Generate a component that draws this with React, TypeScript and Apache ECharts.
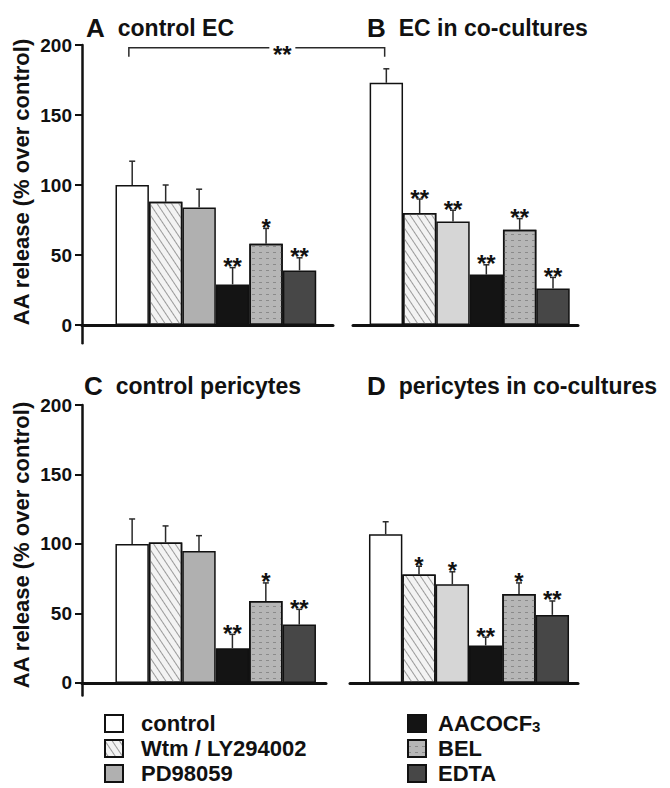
import React, { useEffect, useRef } from 'react';
import * as echarts from 'echarts';

const categories = ['control', 'Wtm / LY294002', 'PD98059', 'AACOCF3', 'BEL', 'EDTA'];

const valuesA = [100, 88, 84, 29, 58, 39];
const semA = [17, 12, 13, 12, 11, 9];
const sigA = ['', '', '', '**', '*', '**'];

const valuesB = [173, 80, 74, 36, 68, 26];
const semB = [10, 10, 8, 7, 8, 8];
const sigB = ['', '**', '**', '**', '**', '**'];

const valuesC = [100, 101, 95, 25, 59, 42];
const semC = [18, 12, 11, 10, 13, 11];
const sigC = ['', '', '', '**', '*', '**'];

const valuesD = [107, 78, 71, 27, 64, 49];
const semD = [9, 6, 9, 6, 8, 10];
const sigD = ['', '*', '*', '**', '*', '**'];

const yTicks = [0, 50, 100, 150, 200];
const bracketValue = 198;
const bracketSig = '**';

const FONT = '"Liberation Sans", Arial, Helvetica, sans-serif';
const STAR_FONT = 'bold 24px "Liberation Sans", Arial, sans-serif';

const panels = [
  { letter: 'A', title: 'control EC', values: valuesA, sem: semA, sig: sigA, left: 82, width: 251, top: 45, height: 298.2, xMin: -1.5, xMax: 6, yMin: -13, showY: true, pd: '#b0b0b0', tLeft: 86, tTop: 15 },
  { letter: 'B', title: 'EC in co-cultures', values: valuesB, sem: semB, sig: sigB, left: 353, width: 225, top: 45, height: 298.2, xMin: -1, xMax: 5.75, yMin: -13, showY: false, pd: '#d6d6d6', tLeft: 367, tTop: 15 },
  { letter: 'C', title: 'control pericytes', values: valuesC, sem: semC, sig: sigC, left: 82, width: 244, top: 405, height: 290.5, xMin: -1.5, xMax: 5.8, yMin: -9, showY: true, pd: '#b0b0b0', tLeft: 84, tTop: 373 },
  { letter: 'D', title: 'pericytes in co-cultures', values: valuesD, sem: semD, sig: sigD, left: 350, width: 228, top: 405, height: 290.5, xMin: -1.07, xMax: 5.77, yMin: -9, showY: false, pd: '#d6d6d6', tLeft: 367, tTop: 373 },
];

function barStyle(j: number, pd: string): any {
  const base = { borderColor: '#111', borderWidth: 1.5 };
  switch (j) {
    case 0:
      return { ...base, color: '#ffffff' };
    case 1:
      return {
        ...base,
        color: '#f3f3f3',
        decal: { symbol: 'rect', symbolSize: 1, color: '#9a9a9a', dashArrayX: [1, 0], dashArrayY: [1, 5], rotation: Math.PI / 3.2 },
      };
    case 2:
      return { ...base, color: pd };
    case 3:
      return { ...base, color: '#141414' };
    case 4:
      return {
        ...base,
        color: '#b6b6b6',
        decal: { symbol: 'rect', symbolSize: 1, color: '#8a8a8a', dashArrayX: [3, 4], dashArrayY: [1, 5], rotation: 0 },
      };
    default:
      return { ...base, color: '#474747' };
  }
}

export default function App() {
  const ref = useRef<HTMLDivElement>(null);

  useEffect(() => {
    if (!ref.current) return;
    const chart = echarts.init(ref.current, undefined, { renderer: 'svg' });

    const grid: any[] = [];
    const xAxis: any[] = [];
    const yAxis: any[] = [];
    const series: any[] = [];
    const title: any[] = [];

    panels.forEach((p, k) => {
      grid.push({ left: p.left, top: p.top, width: p.width, height: p.height, containLabel: false });
      xAxis.push({
        type: 'value', gridIndex: k, min: p.xMin, max: p.xMax,
        axisLine: { show: true, onZero: true, lineStyle: { color: '#111', width: 3 } },
        axisTick: { show: false }, axisLabel: { show: false }, splitLine: { show: false },
      });
      yAxis.push({
        type: 'value', gridIndex: k, min: p.yMin, max: 200,
        axisLine: { show: p.showY, onZero: false, lineStyle: { color: '#111', width: 2.5 } },
        axisTick: { show: p.showY, customValues: yTicks, length: 7, inside: false, lineStyle: { color: '#111', width: 2 } },
        axisLabel: {
          show: p.showY, customValues: yTicks, margin: 10,
          fontFamily: FONT, fontWeight: 'bold', fontSize: 19, color: '#111',
        },
        splitLine: { show: false },
      });
      categories.forEach((name, j) => {
        series.push({
          type: 'bar', name, xAxisIndex: k, yAxisIndex: k,
          barWidth: 33.4, barGap: '-100%',
          data: [[j, p.values[j]]],
          itemStyle: barStyle(j, p.pd),
          emphasis: { disabled: true },
        });
      });
      const sig = p.sig;
      series.push({
        type: 'custom', xAxisIndex: k, yAxisIndex: k, z: 10, silent: true,
        data: p.values.map((v, j) => [j, v, p.sem[j]]),
        renderItem: (params: any, api: any) => {
          const x = api.value(0);
          const v = api.value(1);
          const e = api.value(2);
          const b = api.coord([x, v]);
          const t = api.coord([x, v + e]);
          const s = sig[params.dataIndex];
          return {
            type: 'group',
            children: [
              { type: 'line', shape: { x1: b[0], y1: b[1], x2: t[0], y2: t[1] }, style: { stroke: '#2a2a2a', lineWidth: 1.5 } },
              { type: 'line', shape: { x1: t[0] - 3, y1: t[1], x2: t[0] + 3, y2: t[1] }, style: { stroke: '#2a2a2a', lineWidth: 1.5 } },
              { type: 'text', x: t[0], y: t[1] - 1, style: { text: s, font: STAR_FONT, fill: '#111', align: 'center', verticalAlign: 'middle' } },
            ],
          };
        },
      });
      title.push({
        text: `{l|${p.letter}}{t|${p.title}}`,
        left: p.tLeft, top: p.tTop, padding: 0,
        textStyle: {
          rich: {
            l: { fontFamily: FONT, fontWeight: 'bold', fontSize: 26, color: '#111', padding: [0, 13, 0, 0] },
            t: { fontFamily: FONT, fontWeight: 'bold', fontSize: 23, color: '#111' },
          },
        },
      });
    });

    const legendCommon = {
      orient: 'vertical', icon: 'rect', itemWidth: 18, itemHeight: 17, itemGap: 3,
      selectedMode: false, padding: 0, height: 120,
    };
    const legendRich = (pad: number) => ({
      n: { fontFamily: FONT, fontWeight: 'bold', fontSize: 22, color: '#111', lineHeight: 20, padding: [0, 0, 0, pad] },
      s: { fontFamily: FONT, fontWeight: 'bold', fontSize: 15, color: '#111', lineHeight: 8, verticalAlign: 'bottom' },
    });
    const fmt = (name: string) =>
      name === 'AACOCF3' ? '{n|AACOCF}{s|3}' : `{n|${name}}`;

    const option: any = {
      animation: false,
      backgroundColor: '#ffffff',
      title,
      grid,
      xAxis,
      yAxis,
      series,
      legend: [
        { ...legendCommon, data: categories.slice(0, 3), left: 104, top: 712.5, formatter: fmt, textStyle: { rich: legendRich(13) } },
        { ...legendCommon, data: categories.slice(3), left: 407, top: 712.5, formatter: fmt, textStyle: { rich: legendRich(7) } },
      ],
    };
    chart.setOption(option);

    const a = chart.convertToPixel({ xAxisIndex: 0, yAxisIndex: 0 } as any, [-0.1, bracketValue]) as number[];
    const b = chart.convertToPixel({ xAxisIndex: 1, yAxisIndex: 1 } as any, [-0.05, bracketValue]) as number[];
    const sx = a[0] + 0.6 * (b[0] - a[0]);
    const lineStyle = { stroke: '#2a2a2a', lineWidth: 1.5, fill: null };
    const yTitleStyle = { text: 'AA release (% over control)', font: `bold 22px ${FONT}`, fill: '#111', align: 'center', verticalAlign: 'middle' };
    chart.setOption({
      graphic: [
        { type: 'polyline', shape: { points: [[a[0], a[1] + 9], [a[0], a[1]], [sx - 13, a[1]]] }, style: lineStyle, silent: true },
        { type: 'polyline', shape: { points: [[sx + 13, b[1]], [b[0], b[1]], [b[0], b[1] + 9]] }, style: lineStyle, silent: true },
        { type: 'text', x: sx, y: a[1] + 6.5, style: { text: bracketSig, font: STAR_FONT, fill: '#111', align: 'center', verticalAlign: 'middle' }, silent: true },
        { type: 'text', x: 21, y: 182, rotation: Math.PI / 2, style: yTitleStyle, silent: true },
        { type: 'text', x: 21, y: 545, rotation: Math.PI / 2, style: yTitleStyle, silent: true },
      ],
    });

    return () => chart.dispose();
  }, []);

  return <div ref={ref} style={{ position: 'fixed', left: 0, top: 0, width: 670, height: 788 }} />;
}
